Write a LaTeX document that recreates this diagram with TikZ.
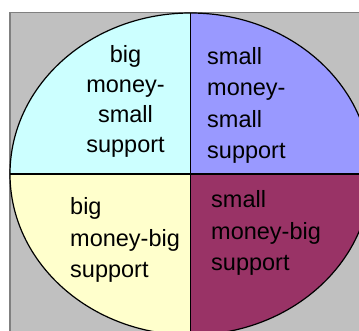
\documentclass[tikz,border=0pt]{standalone}
\usepackage{fontspec}
\setmainfont{Liberation Sans}

\definecolor{chartgray}{RGB}{192,192,192}
\definecolor{framegray}{RGB}{128,128,128}
\definecolor{bigsmall}{RGB}{204,255,255}
\definecolor{smallsmall}{RGB}{153,153,255}
\definecolor{bigbig}{RGB}{255,255,204}
\definecolor{smallbig}{RGB}{153,51,102}

\tikzset{
    quarter/.style={inner sep=0pt, anchor=base west, align=left,
        font=\fontsize{23.5}{31.5}\selectfont},
    oval/.style={x radius=180.5pt, y radius=161pt},
}

\begin{document}
\begin{tikzpicture}[x=1pt, y=-1pt]
        \useasboundingbox (0, 0) rectangle (359, 331);
        \clip (0, 0) rectangle (359, 331);
        \fill[white] (0, 0) rectangle (359, 331);
        \draw[fill=chartgray, draw=framegray, line width=1.5pt] (10, 12.5) rectangle (380, 345);
        \coordinate (mid) at (190.5, 174);
        % the four quarters
        \begin{scope}
            \clip (mid) ellipse[oval];
            \fill[bigsmall] (mid) rectangle (0, 0);
            \fill[smallsmall] (mid) rectangle (380, 0);
            \fill[bigbig] (mid) rectangle (0, 345);
            \fill[smallbig] (mid) rectangle (380, 345);
        \end{scope}
        \draw[line width=1.2pt] (mid) ellipse[oval];
        \draw[line width=1.2pt]
            (mid) ++(0, -161) coordinate (top) -- ++(0, 322) coordinate (bottom)
            (mid) ++(-180.5, 0) coordinate (left) -- ++(361, 0) coordinate (right)
            ;
        % labels (base = last line)
        \node[quarter, anchor=base, align=center, font=\fontsize{23.5}{30}\selectfont]
            (bs) at (125.5, 153) {big\\money-\\small\\support};
        \node[quarter] (ss) at (207, 159) {small\\money-\\small\\support};
        \node[quarter] (bb) at (70, 278) {big\\money-big\\support};
        \node[quarter] (sb) at (211, 271) {small\\money-big\\support};
    \end{tikzpicture}
\end{document}
